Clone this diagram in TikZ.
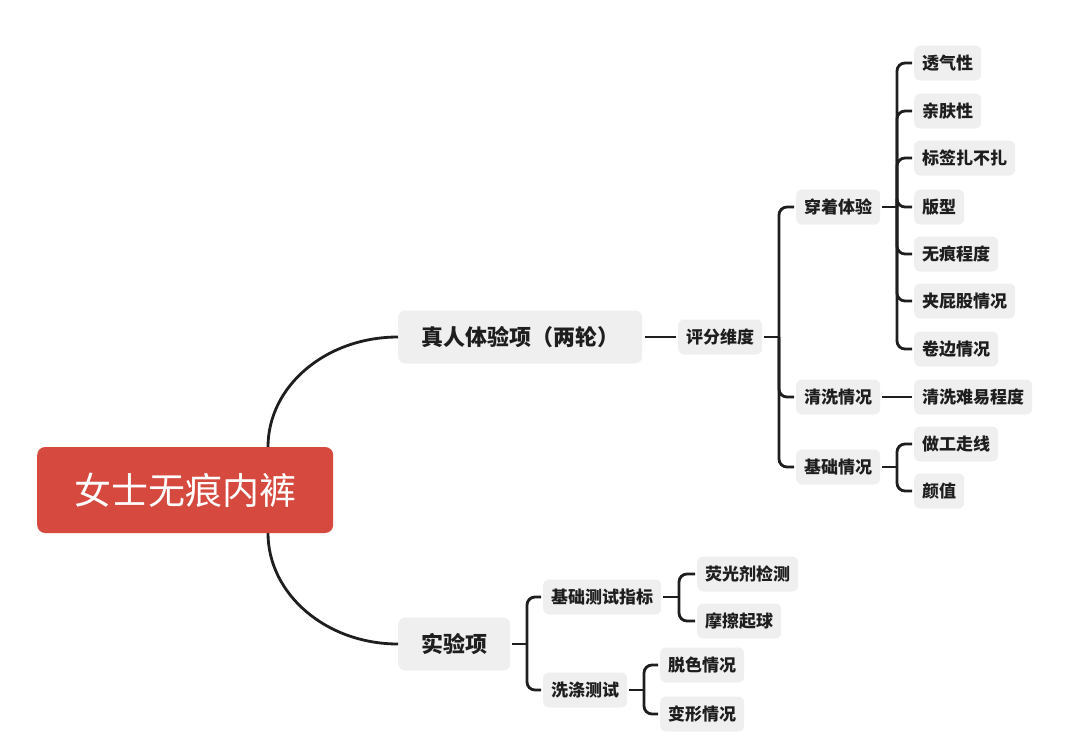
\documentclass[tikz,border=0pt]{standalone}
\usepackage{fontspec}
\newfontfamily\cjk{Noto Sans CJK SC}
\definecolor{rootred}{HTML}{D5493F}
\definecolor{boxgray}{HTML}{EFEFEF}
\definecolor{inkc}{HTML}{1E1E1E}
\begin{document}
\begin{tikzpicture}[x=1pt,y=-1pt,
 rootbox/.style={fill=rootred, rounded corners=8pt, text=white, font=\cjk\fontsize{37pt}{40pt}\selectfont, minimum height=86pt, inner xsep=37pt, inner ysep=0pt, anchor=west},
 mainbox/.style={fill=boxgray, rounded corners=7pt, font=\cjk\bfseries\fontsize{22pt}{24pt}\selectfont, minimum height=53pt, inner xsep=23pt, inner ysep=0pt, anchor=west, text=inkc},
 subbox/.style={fill=boxgray, rounded corners=6pt, font=\cjk\bfseries\fontsize{17pt}{19pt}\selectfont, minimum height=35pt, inner xsep=8pt, inner ysep=0pt, anchor=west, text=inkc},
 conn/.style={draw=inkc, line width=2.8pt, rounded corners=8pt},
 curve/.style={draw=inkc, line width=2.8pt},
]
\useasboundingbox (0,0) rectangle (1080,755);
% curves first (behind root)
\coordinate (rtop) at (268,447);
\coordinate (rbot) at (268,533);
\node[mainbox] (n1) at (398,337) {真人体验项（两轮）};
\node[mainbox] (n2) at (398,644) {实验项};
\draw[curve] (rtop) .. controls +(0,-61) and +(-72,0) .. (n1.west);
\draw[curve] (rbot) .. controls +(0,61) and +(-72,0) .. (n2.west);
\node[rootbox] (root) at (37,490) {女士无痕内裤};

% level 2 upper
\node[subbox] (pf) at (678,337) {评分维度};
\node[subbox] (cz) at (796,207) {穿着体验};
\node[subbox] (qx) at (796,397) {清洗情况};
\node[subbox] (jc) at (796,467) {基础情况};
% leaves
\node[subbox] (l1) at (914,63) {透气性};
\node[subbox] (l2) at (914,111) {亲肤性};
\node[subbox] (l3) at (914,158) {标签扎不扎};
\node[subbox] (l4) at (914,207) {版型};
\node[subbox] (l5) at (914,254) {无痕程度};
\node[subbox] (l6) at (914,301) {夹屁股情况};
\node[subbox] (l7) at (914,349) {卷边情况};
\node[subbox] (l8) at (914,397) {清洗难易程度};
\node[subbox] (l9) at (914,444) {做工走线};
\node[subbox] (l10) at (914,491) {颜值};

% lower
\node[subbox] (jt) at (543,597) {基础测试指标};
\node[subbox] (xd) at (543,690) {洗涤测试};
\node[subbox] (yg) at (697,574) {荧光剂检测};
\node[subbox] (mc) at (697,621) {摩擦起球};
\node[subbox] (ts) at (660,665) {脱色情况};
\node[subbox] (bx) at (660,714) {变形情况};

% connectors
\draw[conn, shorten <=3pt, shorten >=2pt] (n1.east) -- (pf.west);
\coordinate (b1) at (779,337);
\draw[conn, shorten <=2pt] (pf.east) -- (b1);
\foreach \c in {cz,qx,jc} \draw[conn, shorten >=2pt] (b1) |- (\c.west);
\coordinate (b2) at (897,207);
\draw[conn, shorten <=2pt] (cz.east) -- (b2);
\foreach \c in {l1,l2,l3,l4,l5,l6,l7} \draw[conn, shorten >=2pt] (b2) |- (\c.west);
\draw[conn, shorten <=2pt, shorten >=2pt] (qx.east) -- (l8.west);
\coordinate (b3) at (897,467);
\draw[conn, shorten <=2pt] (jc.east) -- (b3);
\foreach \c in {l9,l10} \draw[conn, shorten >=2pt] (b3) |- (\c.west);

\coordinate (b4) at (527,644);
\draw[conn, shorten <=2pt] (n2.east) -- (b4);
\foreach \c in {jt,xd} \draw[conn, shorten >=2pt] (b4) |- (\c.west);
\coordinate (b5) at (679,597);
\draw[conn, shorten <=2pt] (jt.east) -- (b5);
\foreach \c in {yg,mc} \draw[conn, shorten >=2pt] (b5) |- (\c.west);
\coordinate (b6) at (644,690);
\draw[conn, shorten <=2pt] (xd.east) -- (b6);
\foreach \c in {ts,bx} \draw[conn, shorten >=2pt] (b6) |- (\c.west);
\end{tikzpicture}
\end{document}
